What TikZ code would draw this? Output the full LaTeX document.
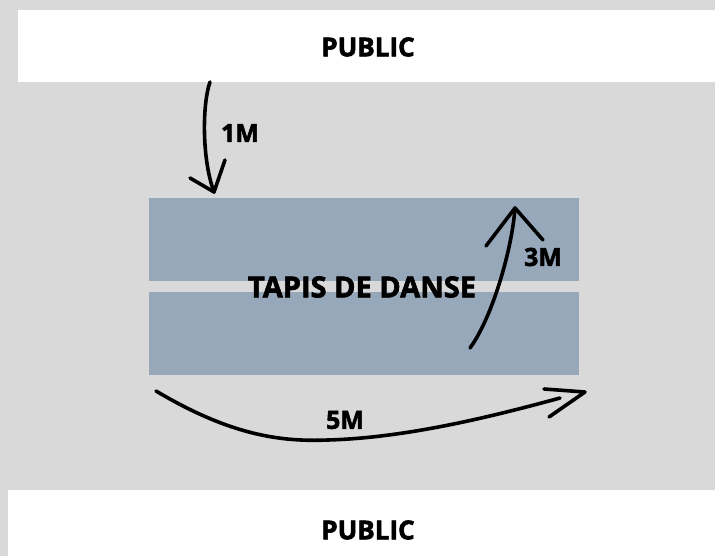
\documentclass[tikz,border=0pt]{standalone}
\usepackage{fontspec}
\setmainfont{Open Sans}[BoldFeatures={FakeBold=2.2}]
\usetikzlibrary{positioning}
\definecolor{floorgray}{HTML}{D9D9D9}
\definecolor{matblue}{HTML}{98A8BB}

\begin{document}
\begin{tikzpicture}[x=1pt,y=-1pt,
    zone/.style={fill=white, inner sep=0pt, anchor=north west},
    mat/.style={fill=matblue, inner sep=0pt, anchor=north west, minimum width=430pt, minimum height=83pt},
    tag/.style={font=\bfseries\fontsize{25}{25}\selectfont},
    stroke/.style={line width=3.6pt, line cap=round, line join=round}]
      % Floor
      \fill[floorgray] (0,0) rectangle (715,556);
      \useasboundingbox (0,0) rectangle (715,556);

      % Public areas
      \node[zone, minimum width=697pt, minimum height=72pt] (top) at (18,10) {};
      \node[zone, minimum width=707pt, minimum height=66pt] (bottom) at (8,490) {};
      \node[tag, font=\bfseries\fontsize{26}{26}\selectfont] (pubtop) at (368,47) {PUBLIC};
      \node[tag, font=\bfseries\fontsize{26}{26}\selectfont] (pubbot) at (368,530) {PUBLIC};

      % Dance floor
      \node[mat] (mattop) at (149,198) {};
      \node[mat] (matbot) at (149,292) {};
      \node[tag, font=\bfseries\fontsize{29}{29}\selectfont] (tapis) at (362,287) {TAPIS DE DANSE};

      % Distances
      \coordinate (a1) at (210,82);
      \coordinate (b1) at (214,192);
      \draw[stroke] (a1) .. controls (202,105) and (202,160) .. (b1);
      \draw[stroke] (190,178) -- (b1) -- (225,160);
      \node[tag] (one) at (240,133) {1M};

      \coordinate (a3) at (470,348);
      \coordinate (b3) at (515,208);
      \draw[stroke] (a3) .. controls (492,318) and (512,250) .. (b3);
      \draw[stroke] (486,246) -- (b3) -- (543,240);
      \node[tag] (three) at (543,257) {3M};

      \coordinate (a5) at (156,391);
      \coordinate (m5) at (328,440);
      \coordinate (b5) at (560,398);
      \draw[stroke] (a5) .. controls (230,435) and (280,442) .. (m5)
        .. controls (400,438) and (480,420) .. (b5);
      \draw[stroke] (544,389) -- (585,392) -- (549,417);
      \node[tag] (five) at (345,420) {5M};
\end{tikzpicture}
\end{document}
